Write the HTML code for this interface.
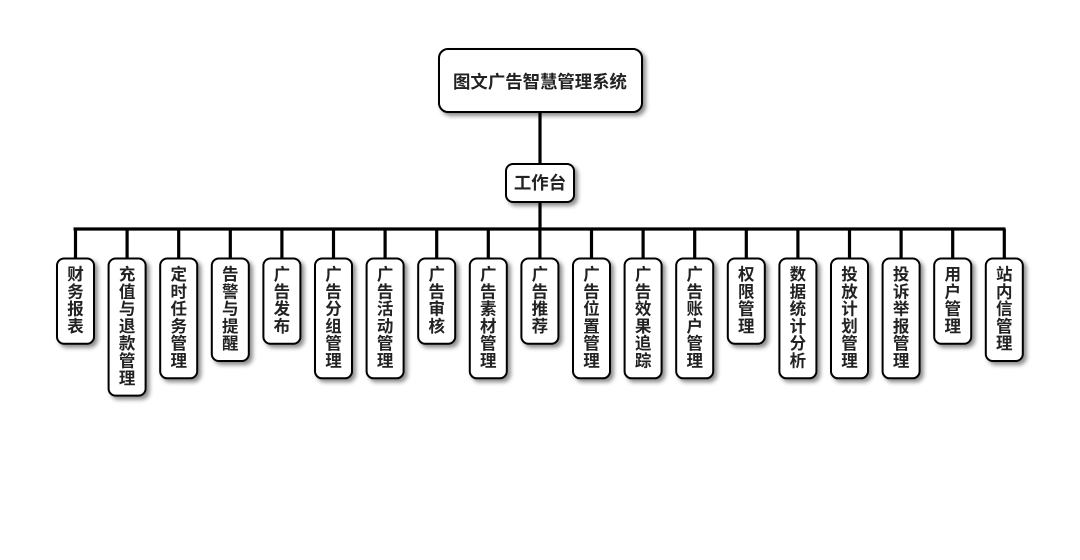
<!DOCTYPE html>
<html><head><meta charset="utf-8"><style>
html,body{margin:0;padding:0;background:#fff;}
svg{display:block;}
text{font-family:"Liberation Sans","Noto Sans CJK SC",sans-serif;font-weight:bold;fill:#222;}
</style></head><body>
<svg width="1080" height="560" viewBox="0 0 1080 560" xmlns="http://www.w3.org/2000/svg">
<defs>
<filter id="sh" x="-30%" y="-30%" width="160%" height="160%">
<feDropShadow dx="3" dy="3" stdDeviation="2.2" flood-color="#000" flood-opacity="0.45"/>
</filter>
</defs>
<g stroke="#000" stroke-width="3.2" fill="none">
<line x1="540" y1="112" x2="540" y2="163"/>
<line x1="540" y1="202" x2="540" y2="229"/>
<line x1="73.5" y1="229" x2="1005.5" y2="229"/>
<line x1="75.5" y1="229" x2="75.5" y2="258"/>
<line x1="127.1" y1="229" x2="127.1" y2="258"/>
<line x1="178.7" y1="229" x2="178.7" y2="258"/>
<line x1="230.3" y1="229" x2="230.3" y2="258"/>
<line x1="281.9" y1="229" x2="281.9" y2="258"/>
<line x1="333.5" y1="229" x2="333.5" y2="258"/>
<line x1="385.1" y1="229" x2="385.1" y2="258"/>
<line x1="436.7" y1="229" x2="436.7" y2="258"/>
<line x1="488.3" y1="229" x2="488.3" y2="258"/>
<line x1="539.9" y1="229" x2="539.9" y2="258"/>
<line x1="591.5" y1="229" x2="591.5" y2="258"/>
<line x1="643.1" y1="229" x2="643.1" y2="258"/>
<line x1="694.7" y1="229" x2="694.7" y2="258"/>
<line x1="746.3" y1="229" x2="746.3" y2="258"/>
<line x1="797.9" y1="229" x2="797.9" y2="258"/>
<line x1="849.5" y1="229" x2="849.5" y2="258"/>
<line x1="901.1" y1="229" x2="901.1" y2="258"/>
<line x1="952.7" y1="229" x2="952.7" y2="258"/>
<line x1="1004.3" y1="229" x2="1004.3" y2="258"/>
</g>
<g filter="url(#sh)" fill="#fff" stroke="#000" stroke-width="2">
<rect x="439" y="49" width="203" height="63" rx="9"/>
<rect x="506" y="164" width="68" height="38" rx="7"/>
</g>
<text x="540" y="82" font-size="17.4" text-anchor="middle" dominant-baseline="central">图文广告智慧管理系统</text>
<text x="540" y="183" font-size="17.4" text-anchor="middle" dominant-baseline="central">工作台</text>
<g id="kids"></g>
</svg>
<script>
(function(){
var labels=["财务报表","充值与退款管理","定时任务管理","告警与提醒","广告发布","广告分组管理","广告活动管理","广告审核","广告素材管理","广告推荐","广告位置管理","广告效果追踪","广告账户管理","权限管理","数据统计分析","投放计划管理","投诉举报管理","用户管理","站内信管理"];
var ns="http://www.w3.org/2000/svg";
var g=document.getElementById("kids");
labels.forEach(function(t,i){
  var cx=75.5+51.6*i;
  var n=t.length;
  var h=16+17.3*n;
  var r=document.createElementNS(ns,"rect");
  r.setAttribute("x",(cx-18.5).toFixed(1));
  r.setAttribute("y","258.5");
  r.setAttribute("width","37");
  r.setAttribute("height",h.toFixed(1));
  r.setAttribute("rx","7");
  r.setAttribute("fill","#fff");
  r.setAttribute("stroke","#000");
  r.setAttribute("stroke-width","2");
  r.setAttribute("filter","url(#sh)");
  g.appendChild(r);
  for(var k=0;k<n;k++){
    var tx=document.createElementNS(ns,"text");
    tx.setAttribute("x",cx.toFixed(1));
    tx.setAttribute("y",(275+17.3*k).toFixed(1));
    tx.setAttribute("font-size","16.5");
    tx.setAttribute("text-anchor","middle");
    tx.setAttribute("dominant-baseline","central");
    tx.textContent=t[k];
    g.appendChild(tx);
  }
});
})();
</script>
</body></html>
